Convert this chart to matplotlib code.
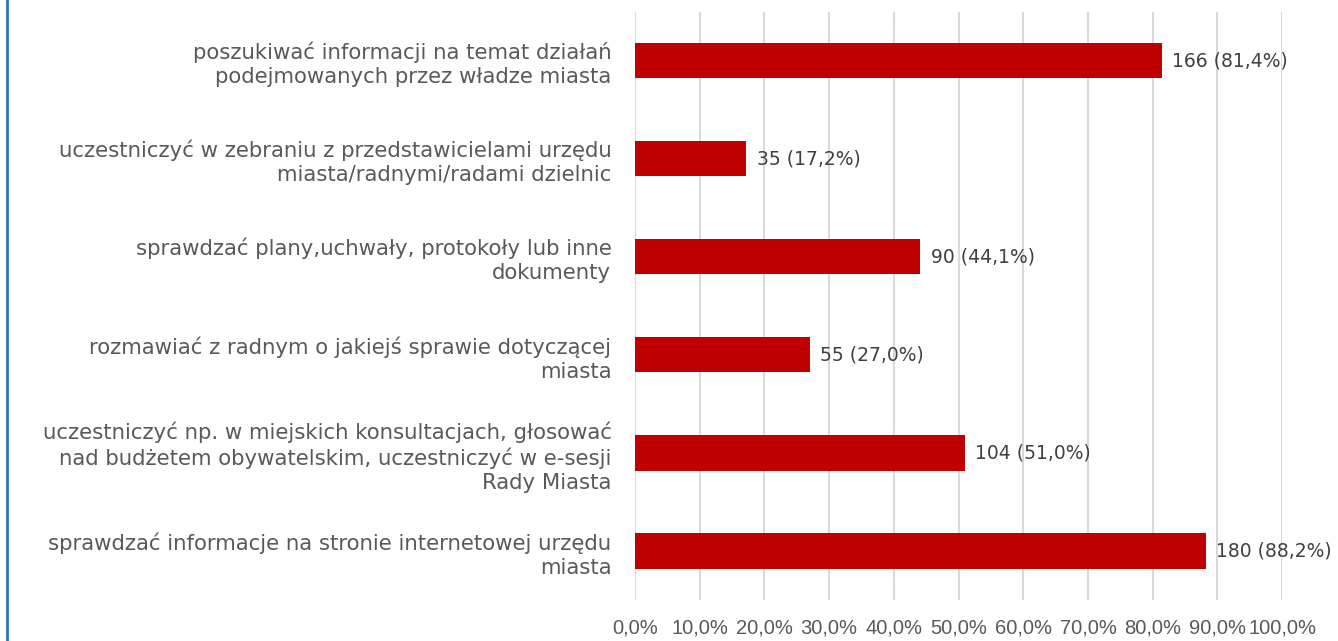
import matplotlib.pyplot as plt
from matplotlib.lines import Line2D
from matplotlib.ticker import FuncFormatter

labels = ['poszukiwać informacji na temat działań\npodejmowanych przez władze miasta',
          'uczestniczyć w zebraniu z przedstawicielami urzędu\nmiasta/radnymi/radami dzielnic',
          'sprawdzać plany,uchwały, protokoły lub inne\ndokumenty',
          'rozmawiać z radnym o jakiejś sprawie dotyczącej\nmiasta',
          'uczestniczyć np. w miejskich konsultacjach, głosować\nnad budżetem obywatelskim, uczestniczyć w e-sesji\nRady Miasta',
          'sprawdzać informacje na stronie internetowej urzędu\nmiasta']
counts = [166, 35, 90, 55, 104, 180]
percents = [81.4, 17.2, 44.1, 27.0, 51.0, 88.2]

text_col = '#595959'

fig = plt.figure(figsize=(13.38, 6.41), dpi=100)
ax = fig.add_axes([0.4746, 0.064, 0.4836, 0.918])

y_pos = list(range(len(labels)))[::-1]
ax.barh(y_pos, percents, height=0.36, color='#C00000', zorder=3)

for y, c, p in zip(y_pos, counts, percents):
    ax.text(p + 1.6, y, str(c) + ' (' + ('%.1f' % p).replace('.', ',') + '%)',
            va='center', ha='left', fontsize=13.5, color='#404040')

ax.set_xlim(0, 100)
ax.set_ylim(-0.5, 5.5)
ax.set_xticks(range(0, 101, 10))
ax.xaxis.set_major_formatter(FuncFormatter(lambda v, pos: ('%.1f' % v).replace('.', ',') + '%'))
ax.set_yticks(y_pos)
ax.set_yticklabels(labels, fontsize=15.3, color=text_col, linespacing=1.25)
ax.grid(axis='x', color='#D9D9D9', linewidth=1.5, zorder=0)
ax.tick_params(axis='y', length=0, pad=17)
ax.tick_params(axis='x', length=0, pad=13, labelsize=14.5, labelcolor=text_col)
for lab in ax.get_xticklabels():
    lab.set_family(['Liberation Sans', 'DejaVu Sans'])
for s in ax.spines.values():
    s.set_visible(False)

fig.add_artist(Line2D([0.0055, 0.0055], [0, 1], transform=fig.transFigure,
                      color='#2E75B6', linewidth=2))

fig.savefig('out.png', dpi=100)
